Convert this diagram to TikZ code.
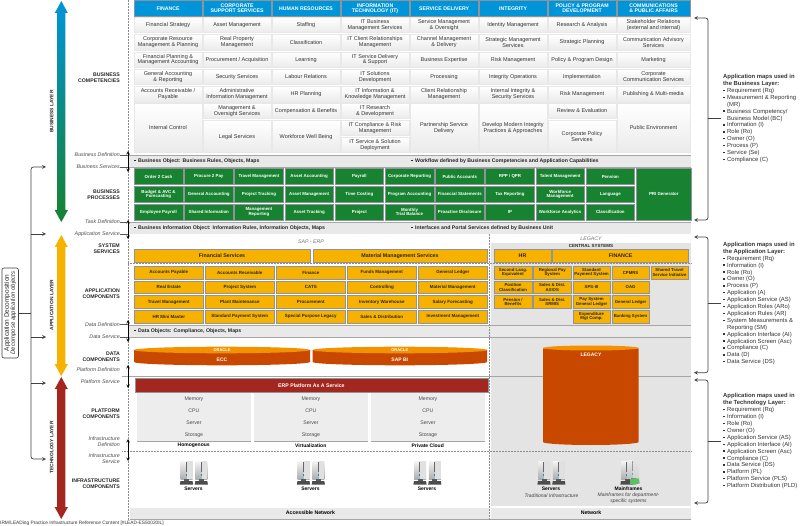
\documentclass[tikz,border=0pt]{standalone}
\usepackage{fontspec}
\setmainfont{Liberation Sans}
\usepackage{xcolor}

\definecolor{headblue}{HTML}{0095D8}
\definecolor{procgreen}{HTML}{17822F}
\definecolor{appyellow}{HTML}{F7B200}
\definecolor{techred}{HTML}{A3271F}
\definecolor{dataorange}{HTML}{C94800}
\definecolor{dataamber}{HTML}{F39200}
\definecolor{bandgrey}{HTML}{E9E9E9}
\definecolor{panelgrey}{HTML}{E4E4E4}
\definecolor{edgegrey}{HTML}{8E9499}

\newcommand{\fsz}[2]{\fontsize{#1}{#2}\selectfont}
\newcommand{\itm}{\makebox[4pt][l]{\rule[1.3pt]{1.4pt}{1.4pt}}}

\tikzset{
    tile/.style={anchor=north west,inner sep=0pt,align=center},
    headbox/.style={tile,fill=headblue,draw=edgegrey,line width=0.7pt,text=white,minimum height=15.5pt,
        font=\fsz{5.2}{5}\bfseries},
    compbox/.style={tile,top color=white,bottom color=black!8,draw=black!9,line width=0.5pt,
        text=black!80,font=\fsz{5.5}{5.7}},
    procbox/.style={tile,fill=procgreen,draw=edgegrey,line width=0.6pt,text=white,
        minimum width=48.5pt,minimum height=16pt,font=\fsz{4.4}{4.6}\bfseries},
    svcbox/.style={tile,fill=appyellow,draw=edgegrey,line width=0.6pt,minimum height=13pt,
        text=black!85,font=\fsz{5.3}{5.5}\bfseries},
    appbox/.style={tile,fill=appyellow,draw=edgegrey,line width=0.6pt,minimum width=69pt,
        minimum height=12.6pt,text=black!85,font=\fsz{4.5}{4.6}\bfseries},
    legbox/.style={appbox,minimum width=37.5pt,font=\fsz{4.3}{4.4}\bfseries},
    bandtext/.style={anchor=west,inner sep=0pt,text=black!85,font=\fsz{5.2}{6}\bfseries},
    layerlabel/.style={align=right,anchor=east,inner sep=0pt,text=black!85,font=\fsz{5.2}{6}\bfseries},
    deflabel/.style={align=right,anchor=east,inner sep=0pt,text=black!70,font=\fsz{5.3}{6}\itshape},
    vertlabel/.style={rotate=90,inner sep=0pt,text=black!85,font=\fsz{4.9}{6}\bfseries},
    mapnote/.style={anchor=north west,align=left,inner sep=0pt,text=black!80,font=\fsz{5.9}{6.9}},
    caption/.style={inner sep=0pt,align=center,font=\fsz{5}{6.2}},
    rowline/.style={draw=black!35,line width=0.7pt},
    dotline/.style={draw=black!45,line width=0.5pt,densely dotted},
    tickline/.style={draw=black!65,line width=0.45pt},
    latch/.style={<->,>=stealth,line width=0.6pt},
    bracket/.style={<->,>=stealth,draw=black!75,line width=0.7pt,rounded corners=2.5pt},
    feed/.style={->,>=stealth,draw=black!75,line width=0.7pt},
    tower/.pic={
        \shade[top color=black!4,bottom color=black!32] (0,0) rectangle (12,18);
        \fill[black!12] (6.4,0) rectangle (12,18);
        \fill[black!60] (5.4,1) rectangle (6.2,11);
        \fill[headblue] (5.4,13) rectangle (6.2,14.5);
        \fill[black!65] (3.5,18) rectangle (8.5,20);
        \fill[black!70] (0,20) -- (12,20) -- (12.6,23.5) -- (-0.6,23.5) -- cycle;
    }
}

\begin{document}
\begin{tikzpicture}[x=1pt,y=-1pt]
    \useasboundingbox (0,0) rectangle (800,526);

    % legacy panel behind everything on the right
    \fill[panelgrey] (491,243) rectangle (691,506);

    % definition bands
    \foreach \bandy in {155,222,325} {
        \fill[bandgrey] (128,\bandy) rectangle (691,\bandy+12.4);
        \draw[rowline] (128,\bandy) -- (691,\bandy);
    }
    \draw[rowline] (128,167.4) -- (691,167.4);
    \draw[rowline] (128,337.4) -- (691,337.4);
    \draw[rowline] (122,376.7) -- (691,376.7);

    \fill[bandgrey] (130,508) rectangle (489,519);
    \fill[bandgrey] (491,508) rectangle (691,519);
    \draw[rowline] (130,519.3) -- (691,519.3);

    \draw[dotline] (128.5,0) -- (128.5,520);
    \draw[dotline] (489.5,234) -- (489.5,520);
    \draw[dotline] (128,263.6) -- (691,263.6);
    \draw[dotline] (122,451) -- (691,451);

    % business competencies
    \foreach \ctext [count=\c] in {FINANCE,{CORPORATE\\SUPPORT SERVICES},HUMAN RESOURCES,{INFORMATION\\TECHNOLOGY (IT)},
        SERVICE DELIVERY,INTEGRITY,{POLICY \& PROGRAM\\DEVELOPMENT},{COMMUNICATIONS\\\& PUBLIC AFFAIRS}}
        \node[headbox,minimum width={\c==8 ? 72.5 : 67.5}] (head\c) at ({134+69*(\c-1)},0.5) {\ctext};

    \foreach \rowy/\rowtexts [count=\r] in {
        17/{Financial Strategy,Asset Management,Staffing,{IT Business\\Management Services},{Service Management\\\& Oversight},Identity Management,Research \& Analysis,{Stakeholder Relations\\(external and internal)}},
        34.3/{{Corporate Resource\\Management \& Planning},{Real Property\\Management},Classification,{IT Client Relationships\\Management},{Channel Management\\\& Delivery},{Strategic Management\\Services},Strategic Planning,{Communication Advisory\\Services}},
        51.6/{{Financial Planning \&\\Management Accounting},Procurement / Acquisition,Learning,{IT Service Delivery\\\& Support},Business Expertise,Risk Management,Policy \& Program Design,Marketing},
        68.9/{{General Accounting\\\& Reporting},Security Services,Labour Relations,{IT Solutions\\Development},Processing,Integrity Operations,Implementation,{Corporate\\Communication Services}},
        86.2/{{Accounts Receivable /\\Payable},{Administrative\\Information Management},HR Planning,{IT Information \&\\Knowledge Management},{Client Relationship\\Management},{Internal Integrity \&\\Security Services},Risk Management,Publishing \& Multi-media}} {
        \foreach \ctext [count=\c] in \rowtexts
            \node[compbox,minimum width={\c==8 ? 72.5 : 67.5},minimum height=15.5pt] (comp\r-\c) at ({134+69*(\c-1)},\rowy) {\ctext};
    }

    \foreach \cx/\cy/\ch/\ctext [count=\n] in {
        134/103/49.5/Internal Control,
        203/103/15.5/{Management \&\\Oversight Services},
        203/120.3/32.2/Legal Services,
        272/103/15.5/Compensation \& Benefits,
        272/120.3/32.2/Workforce Well Being,
        341/103/15.5/{IT Research\\\& Development},
        341/120.3/15.2/{IT Compliance \& Risk\\Management},
        341/137.3/15.2/{IT Service \& Solution\\Deployment},
        410/103/49.5/{Partnership Service\\Delivery},
        479/103/49.5/{Develop Modern Integrity\\Practices \& Approaches},
        548/103/15.5/Review \& Evaluation,
        548/120.3/32.2/{Corporate Policy\\Services}}
        \node[compbox,minimum width=67.5pt,minimum height=\ch pt] (tall\n) at (\cx,\cy) {\ctext};
    \node[compbox,minimum width=72.5pt,minimum height=49.5pt] (tall13) at (617,103) {Public Environment};

    % business processes
    \foreach \rowy/\rowtexts [count=\r] in {
        168.2/{Order 2 Cash,Procure 2 Pay,Travel Management,Asset Accounting,Payroll,Corporate Reporting,Public Accounts,RPP / QPR,Talent Management,Pension},
        186/{{Budget \& AVC \&\\Forecasting},General Accounting,Project Tracking,Asset Management,Time Costing,Program Accounting,Financial Statements,Tax Reporting,{Workforce\\Management},Language},
        203.6/{Employee Payroll,Shared Information,{Management\\Reporting},Asset Tracking,Project,{Monthly\\Trial Balance},Proactive Disclosure,IP,Workforce Analytics,Classification}} {
        \foreach \ctext [count=\c] in \rowtexts
            \node[procbox] (proc\r-\c) at ({134+50.2*(\c-1)},\rowy) {\ctext};
    }
    \node[procbox,minimum width=55pt,minimum height=51.4pt] (prigen) at (636,168.2) {PRI Generator};

    % system services
    \node[inner sep=0pt,text=black!55,font=\fsz{5.2}{6}\itshape] (saperp) at (311,241.5) {SAP - ERP};
    \node[inner sep=0pt,text=black!55,font=\fsz{5.2}{6}\itshape] (legacytag) at (591,239) {LEGACY};
    \node[inner sep=0pt,text=black!85,font=\fsz{4.5}{6}\bfseries] (central) at (591,246) {CENTRAL SYSTEMS};
    \node[svcbox,minimum width=175.5pt] (finserv) at (134,249) {Financial Services};
    \node[svcbox,minimum width=174.5pt] (matserv) at (312.5,249) {Material Management Services};
    \node[svcbox,minimum width=56.5pt] (hrserv) at (494,249) {HR};
    \node[svcbox,minimum width=136pt] (finlegacy) at (552.3,249) {FINANCE};

    % application components
    \foreach \rowy/\rowtexts [count=\r] in {
        266/{Accounts Payable,Accounts Receivable,Finance,Funds Management,General Ledger},
        280.7/{Real Estate,Project System,CATS,Controlling,Material Management},
        295.4/{Travel Management,Plant Maintenance,Procurement,Inventory Warehouse,Salary Forecasting},
        310/{HR Mini Master,Standard Payment System,Special Purpose Legacy,Sales \& Distribution,Investment Management}} {
        \foreach \ctext [count=\c] in \rowtexts
            \node[appbox] (app\r-\c) at ({134+71*(\c-1)},\rowy) {\ctext};
    }
    \foreach \cx/\cy/\ctext [count=\n] in {
        494/266/{Second Lang.\\Equivalent},533.2/266/{Regional Pay\\System},572.5/266/{Standard\\Payment System},611.5/266/CPMRS,650.5/266/{Shared Travel\\Service Initiative},
        494/280.7/{Position\\Classification},533.2/280.7/{Sales \& Dist.\\AXIOS},572.5/280.7/SPS-III,611.5/280.7/OAG,
        494/295.4/{Pension /\\Benefits},533.2/295.4/{Sales \& Dist.\\SRMIS},572.5/295.4/{Pay System\\General Ledger},611.5/295.4/General Ledger,
        572.5/310/{Expenditure\\Mgt Comp.},611.5/310/Banking System}
        \node[legbox] (leg\n) at (\cx,\cy) {\ctext};

    % band captions
    \node[bandtext] (bizobj) at (134,161.4) {\itm Business Object: Business Rules, Objects, Maps};
    \node[bandtext] (workflow) at (411,161.4) {\itm Workflow defined by Business Competencies and Application Capabilities};
    \node[bandtext] (infoobj) at (134,228.2) {\itm Business Information Object: Information Rules, Information Objects, Maps};
    \node[bandtext] (portal) at (411,228.2) {\itm Interfaces and Portal Services defined by Business Unit};
    \node[bandtext] (dataobj) at (134,331.2) {\itm Data Objects: Compliance, Objects, Maps};

    % data stores
    \foreach \sx/\sw/\sname/\stext in {134/88/ecc/ECC,312.5/87.3/sapbi/SAP BI} {
        \fill[dataorange] (\sx,350) -- (\sx,362) arc[start angle=180,end angle=360,x radius=\sw pt,y radius=3.3pt] -- +(0,-12) -- cycle;
        \fill[dataamber] (\sx+\sw,350) ellipse[x radius=\sw pt,y radius=3.3pt];
        \node[inner sep=0pt,text=white,font=\fsz{4}{5}\bfseries] (\sname top) at (\sx+\sw,350.2) {ORACLE};
        \node[inner sep=0pt,text=white,font=\fsz{5}{6}\bfseries] (\sname) at (\sx+\sw,359.7) {\stext};
    }
    \fill[dataorange] (543,348.5) -- (543,442) arc[start angle=180,end angle=360,x radius=47.8pt,y radius=3pt] -- (638.6,348.5) -- cycle;
    \fill[dataamber] (590.8,348) ellipse[x radius=47.8pt,y radius=2.5pt];
    \node[inner sep=0pt,text=white,font=\fsz{5}{6}\bfseries] (legacydb) at (591,354.3) {LEGACY};

    % platform
    \node[tile,fill=techred,draw=edgegrey,line width=0.8pt,text=white,minimum width=353pt,minimum height=14pt,
        font=\fsz{5.2}{6}\bfseries] (erpbar) at (134.5,378.3) {ERP Platform As A Service};
    \foreach \px/\pname [count=\n] in {137/Homogenous,254/Virtualization,371/Private Cloud} {
        \foreach \py/\ptext [count=\r] in {392.6/Memory,404.6/CPU,416.6/Server,428.6/Storage} {
            \node[tile,fill=black!7,minimum width=113.5pt,minimum height=12pt,text=black!70,
                font=\fsz{5.2}{6}] (plat\n-\r) at (\px,\py) {\ptext};
            \draw[rowline] (plat\n-\r.south west) -- (plat\n-\r.south east);
        }
        \node[caption,font=\fsz{5}{6}\bfseries] (pool\n) at (\px+56.7,445.6) {\pname};
    }

    % infrastructure
    \foreach \ix [count=\n] in {180.5,297.5,414,538} {
        \pic at (\ix,461) {tower};
        \pic at (\ix+14.8,461) {tower};
    }
    \pic at (621,461) {tower};
    \pic[opacity=0.6] at (627,460) {tower};
    \fill[procgreen!70!green!70!white] (630,480) -- (633,478.5) -- (639,478.5) -- (639,482.5) -- (636,484.5) -- (630,484.5) -- cycle;

    \foreach \ix/\iname [count=\n] in {193.5/servA,310.5/servB,427/servC,551/servD}
        \node[caption,font=\fsz{5}{6}\bfseries] (\iname) at (\ix,489) {Servers};
    \node[caption,font=\fsz{5}{6}\bfseries] (mainframe) at (628.5,489) {Mainframes};
    \node[caption,font=\fsz{5}{6.2}\itshape,text=black!75] (servnote) at (551.5,495.3) {Traditional Infrastructure};
    \node[caption,font=\fsz{5}{6.2}\itshape,text=black!75] (mainnote) at (628.5,498.5) {Mainframes for department-\\specific systems};
    \node[caption,font=\fsz{5.2}{6}\bfseries] (accnet) at (310.5,513) {Accessible Network};
    \node[caption,font=\fsz{5.2}{6}\bfseries] (net) at (591,513) {Network};

    % layer names on the left
    \foreach \ly/\ltext/\lname in {
        78/{BUSINESS\\COMPETENCIES}/labcomp,195/{BUSINESS\\PROCESSES}/labproc,249/{SYSTEM\\SERVICES}/labsys,
        294/{APPLICATION\\COMPONENTS}/labapp,357/{DATA\\COMPONENTS}/labdata,414/{PLATFORM\\COMPONENTS}/labplat,
        484/{INFRASTRUCTURE\\COMPONENTS}/labinfra}
        \node[layerlabel] (\lname) at (120,\ly) {\ltext};

    \foreach \ly/\ltext/\lname in {
        155/Business Definition/bizdef,167/Business Services/bizserv,222/Task Definition/taskdef,234/Application Service/appserv,
        324.5/Data Definition/datadef,337/Data Service/dataserv,369.5/Platform Definition/platdef,382/Platform Service/platserv,
        442/{Infrastructure\\Definition}/infradef,459/{Infrastructure\\Service}/infraserv}
        \node[deflabel] (\lname) at (120,\ly) {\ltext};

    \foreach \upname/\downname/\ya/\yb in {bizdef/bizserv/151/172,taskdef/appserv/220/239,datadef/dataserv/320/342,
        platdef/platserv/365/388,infradef/infraserv/439/461} {
        \coordinate (\upname top) at (128,\ya);
        \coordinate (\downname end) at (128,\yb);
        \draw[latch] (\upname top) -- (\downname end);
    }
    \foreach \lname in {bizdef,bizserv,taskdef,appserv,datadef,dataserv}
        \draw[tickline] (\lname.east) -- (128,0 |- \lname.east);

    % the three layers
    \shade[top color=headblue,bottom color=procgreen] (61.3,1) -- (67.8,13) -- (65.4,13) -- (65.4,210) -- (68,210) -- (61.3,222)
        -- (54.6,210) -- (57.2,210) -- (57.2,13) -- (54.8,13) -- cycle;
    \fill[appyellow] (61.3,235) -- (67.8,247) -- (65.4,247) -- (65.4,364) -- (68,364) -- (61.3,376)
        -- (54.6,364) -- (57.2,364) -- (57.2,247) -- (54.8,247) -- cycle;
    \fill[techred] (61.3,377) -- (67.8,389) -- (65.4,389) -- (65.4,507) -- (68,507) -- (61.3,519)
        -- (54.6,507) -- (57.2,507) -- (57.2,389) -- (54.8,389) -- cycle;
    \node[vertlabel] (bizlayer) at (51.7,111.5) {BUSINESS LAYER};
    \node[vertlabel] (applayer) at (51.7,305) {APPLICATION LAYER};
    \node[vertlabel] (techlayer) at (51.7,447.5) {TECHNOLOGY LAYER};

    % application decomposition
    \node[rotate=90,draw=black!75,line width=0.6pt,rounded corners=2pt,fill=white,minimum width=90pt,minimum height=16.5pt,
        inner sep=0pt,align=center,text=black!85,font=\fsz{6.5}{6}] (appdecomp) at (10.2,313)
        {Application Decomposition\\{\fsz{6}{6}\itshape Decompose application objects}};
    \coordinate (feedjoin) at (31,313);
    \draw[feed,-] (appdecomp.south) -- (feedjoin);
    \draw[feed,rounded corners=2.5pt] (31,313) -- (31,167) -- (46,167);
    \draw[feed,rounded corners=2.5pt] (31,313) -- (31,459) -- (46,459);
    \foreach \fy/\fname in {234/feedB,337/feedC,383/feedD} {
        \coordinate (\fname) at (46,\fy);
        \draw[feed] (31,\fy) -- (\fname);
    }

    % application maps
    \node[mapnote] (bizmaps) at (723,74.2) {\textbf{Application maps used in}\\\textbf{the Business Layer:}\\
        \itm Requirement (Rq)\\\itm Measurement \& Reporting\\\hspace*{4pt}(MR)\\\itm Business Competency/\\\hspace*{4pt}Business Model (BC)\\
        \itm Information (I)\\\itm Role (Ro)\\\itm Owner (O)\\\itm Process (P)\\\itm Service (Se)\\\itm Compliance (C)};
    \node[mapnote] (appmaps) at (723,242) {\textbf{Application maps used in}\\\textbf{the Application Layer:}\\
        \itm Requirement (Rq)\\\itm Information (I)\\\itm Role (Ro)\\\itm Owner (O)\\\itm Process (P)\\\itm Application (A)\\
        \itm Application Service (AS)\\\itm Application Roles (ARo)\\\itm Application Rules (AR)\\\itm System Measurements \&\\\hspace*{4pt}Reporting (SM)\\
        \itm Application Interface (AI)\\\itm Application Screen (Asc)\\\itm Compliance (C)\\\itm Data (D)\\\itm Data Service (DS)};
    \node[mapnote] (techmaps) at (723,393.5) {\textbf{Application maps used in}\\\textbf{the Technology Layer:}\\
        \itm Requirement (Rq)\\\itm Information (I)\\\itm Role (Ro)\\\itm Owner (O)\\\itm Application Service (AS)\\\itm Application Interface (AI)\\
        \itm Application Screen (Asc)\\\itm Compliance (C)\\\itm Data Service (DS)\\\itm Platform (PL)\\\itm Platform Service (PLS)\\\itm Platform Distribution (PLD)};

    \foreach \mname/\ya/\yb in {bizmaps/18/220,appmaps/237/372.7,techmaps/380/503} {
        \coordinate (\mname top) at (694,\ya);
        \coordinate (\mname end) at (694,\yb);
        \draw[bracket] (\mname top) -- (708,\ya) -- (708,\yb) -- (\mname end);
        \draw[draw=black!75,line width=0.7pt,shorten <=2.5pt] (\mname.west) -- (708,0 |- \mname.west);
    }

    \node[anchor=west,inner sep=0pt,text=black!80,font=\fsz{4.8}{6}] (footer) at (0,523)
        {IRM/LEADing Practice Infrastructure Reference Content [\#LEAD-ES50020IL]};
\end{tikzpicture}
\end{document}
